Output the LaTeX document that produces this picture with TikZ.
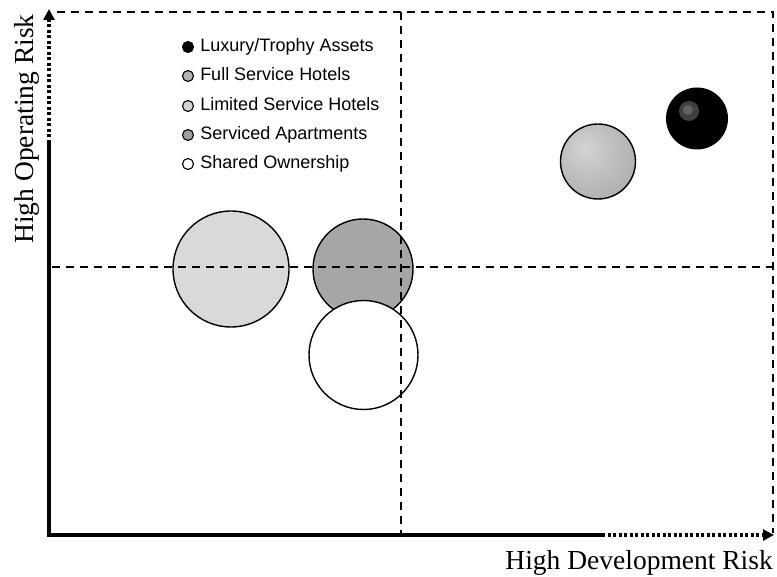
\documentclass[tikz,border=0pt]{standalone}
\usepackage{fontspec}
\setmainfont{Liberation Serif}
\newfontfamily\legendfont{Liberation Sans}
\usetikzlibrary{arrows.meta,positioning}
\pgfdeclareradialshading{sphere}{\pgfpoint{-9bp}{9bp}}{%
  color(0bp)=(black!17); color(20bp)=(black!26); color(45bp)=(black!36);
  color(62bp)=(black!42); color(100bp)=(black!42)}
\tikzset{
    quad/.style={line width=1.6pt, dash pattern=on 8pt off 6pt},
    axe/.style={line width=3.5pt},
    axepointille/.style={line width=3.5pt, dash pattern=on 3pt off 2.5pt,
      -{Triangle[length=11pt,width=11pt]}},
    bulle/.style={circle, draw, line width=1.4pt, inner sep=0pt},
    puce/.style={circle, draw, line width=1.1pt, inner sep=0pt, minimum size=11pt},
    legende/.style={font=\legendfont\fontsize{18}{20}\selectfont, inner sep=0pt,
      text height=12.5pt, text depth=3.5pt},
    titre/.style={font=\fontsize{27.5}{30}\selectfont, inner sep=0pt},
  }
\begin{document}
\begin{tikzpicture}[x=1pt,y=-1pt]
				  \useasboundingbox (0,0) rectangle (777,577);

				  %BULLES
				  \node[bulle, fill=black!15, minimum size=116pt] (limited) at (231,269) {};
				  \node[bulle, fill=black!35, minimum size=100pt] (serviced) at (363,269) {};
				  \node[bulle, fill=white, minimum size=109pt] (shared) at (363.5,355) {};
				  \node[bulle, shading=sphere, minimum size=75pt] (full) at (598,161.5) {};
				  \node[circle, fill=black, inner sep=0pt, minimum size=62pt] (luxury) at (697,118.5) {};
				  \node[circle, fill=black!75, inner sep=0pt, minimum size=20pt] (reflet) at (689,111) {};
				  \node[circle, fill=black!62, inner sep=0pt, minimum size=10pt] (refletc) at (688,110) {};

				  %QUADRANTS
				  \coordinate (Q_1) at (57,12);
				  \coordinate (Q_2) at (773,12);
				  \coordinate (Q_3) at (773,533);
				  \draw[quad] (Q_1) -- (Q_2) -- (Q_3);
				  \coordinate (V_1) at (401,12);
				  \coordinate (V_2) at (401,535);
				  \draw[quad] (V_1) -- (V_2);
				  \coordinate (H_1) at (52,267);
				  \coordinate (H_2) at (773,267);
				  \draw[quad] (H_1) -- (H_2);

				  %AXES
				  \coordinate (O) at (49,535);
				  \coordinate (Y_1) at (49,143);
				  \coordinate (Y_2) at (49,9);
				  \coordinate (X_1) at (602,535);
				  \coordinate (X_2) at (774,535);
				  \draw[axe, line join=miter] (Y_1) -- (O) -- (X_1);
				  \draw[axepointille] (Y_1) -- (Y_2);
				  \draw[axepointille] (X_1) -- (X_2);
				  \node[titre, rotate=90, anchor=base] (ylabel) at (34,129) {High Operating Risk};
				  \node[titre, anchor=base east] (xlabel) at (773,569) {High Development Risk};

				  %LEGENDE
				  \node[puce, fill=black] (p_1) at (188,47) {};
				  \node[legende, right=6pt of p_1] (l_1) {Luxury/Trophy Assets};
				  \node[puce, fill=black!30] (p_2) at (188,76) {};
				  \node[legende, right=6pt of p_2] (l_2) {Full Service Hotels};
				  \node[puce, fill=black!17] (p_3) at (188,106) {};
				  \node[legende, right=6pt of p_3] (l_3) {Limited Service Hotels};
				  \node[puce, fill=black!38] (p_4) at (188,135) {};
				  \node[legende, right=6pt of p_4] (l_4) {Serviced Apartments};
				  \node[puce, fill=white] (p_5) at (188,164) {};
				  \node[legende, right=6pt of p_5] (l_5) {Shared Ownership};
\end{tikzpicture}
\end{document}
